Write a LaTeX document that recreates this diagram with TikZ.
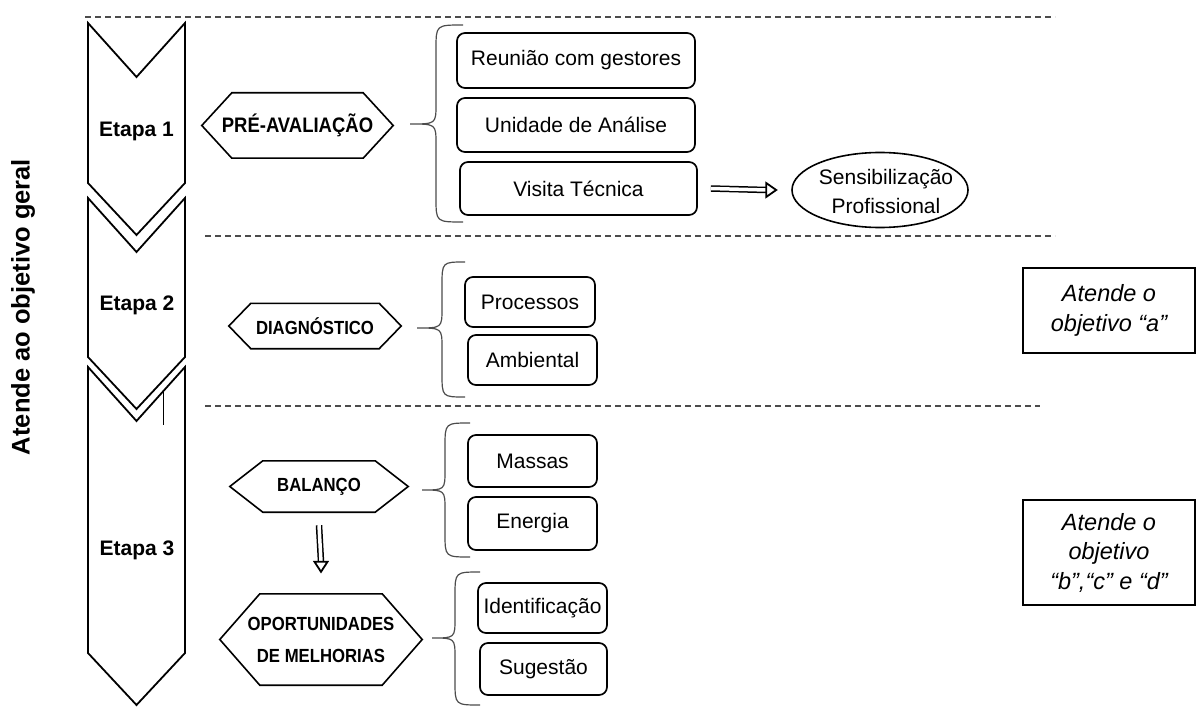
\documentclass[tikz,border=0pt]{standalone}
\usepackage{fontspec}
\setmainfont{Liberation Sans}
\newfontfamily\condsans[FakeStretch=0.88]{Liberation Sans}
\usetikzlibrary{arrows.meta,shapes.geometric}
\newcommand\drawhex[2]{\draw[hexline] (#1.west) -- ([xshift=#2pt]#1.north west) -- ([xshift=-#2pt]#1.north east) -- (#1.east) -- ([xshift=-#2pt]#1.south east) -- ([xshift=#2pt]#1.south west) -- cycle;}
\newcommand\cbrace[6]{\draw[bracel] (#1,#4) .. controls (#2,#4) .. (#2,#4+24) -- (#2,#5-20) .. controls (#2,#5) .. (#3,#5) .. controls (#2,#5) .. (#2,#5+20) -- (#2,#6-24) .. controls (#2,#6) .. (#1,#6);}
\begin{document}
\begin{tikzpicture}[x=1pt,y=-1pt,
  rbox/.style={draw, line width=1.7pt, rounded corners=8pt, inner sep=0pt, font=\fontsize{21}{25}\selectfont, align=center},
  hexlbl/.style={inner sep=0pt, font=\condsans\bfseries\fontsize{19}{32}\selectfont, align=center},
  hexline/.style={line width=1.6pt},
  chev/.style={line width=1.8pt, line join=miter},
  bracel/.style={line width=1.2pt, draw=black!70},
  sepline/.style={dash pattern=on 6pt off 4pt, line width=1.1pt, draw=black!70},
  etapa/.style={font=\bfseries\fontsize{21}{25}\selectfont},
  goal/.style={draw, line width=1.6pt, font=\itshape\fontsize{23.5}{29.5}\selectfont, align=center, inner sep=0pt},
  hshaft/.style={double, double distance=3.5pt, line width=1.5pt},
  hhead/.style={line width=1.8pt, fill=white, line join=miter}
]
\useasboundingbox (0,0) rectangle (1198,711);

% separators
\coordinate (s1a) at (85,17);  \coordinate (s1b) at (1055,17);
\coordinate (s2a) at (205,236); \coordinate (s2b) at (1055,236);
\coordinate (s3a) at (205,406); \coordinate (s3b) at (1040,406);
\draw[sepline] (s1a) -- (s1b);
\draw[sepline] (s2a) -- (s2b);
\draw[sepline] (s3a) -- (s3b);

% chevrons
\draw[chev] (88,23) -- (136.5,77) -- (185,23) -- (185,183) -- (136.5,235) -- (88,183) -- cycle;
\draw[chev] (88,198) -- (136.5,252) -- (185,198) -- (185,357) -- (136.5,409) -- (88,357) -- cycle;
\draw[chev] (88,367) -- (136.5,421) -- (185,367) -- (185,653) -- (136.5,705) -- (88,653) -- cycle;
\draw[line width=0.9pt] (163,390) -- (163,425);
\node[etapa] (e1) at (136.5,131) {Etapa 1};
\node[etapa] (e2) at (137,305) {Etapa 2};
\node[etapa] (e3) at (137,550) {Etapa 3};

\node[rotate=90, font=\bfseries\fontsize{25.5}{30}\selectfont] (geral) at (23,307) {Atende ao objetivo geral};

% hexagons
\node[hexlbl, minimum width=191pt, minimum height=65pt, font=\condsans\bfseries\fontsize{21}{25}\selectfont] (pre) at (297.5,125.5) {PRÉ-AVALIAÇÃO};
\drawhex{pre}{30}
\node[hexlbl, minimum width=172pt, minimum height=45pt] (diag) at (315,326) {DIAGNÓSTICO};
\drawhex{diag}{22}
\node[hexlbl, minimum width=178pt, minimum height=51pt] (bal) at (319,486.5) {BALANÇO};
\drawhex{bal}{33}
\node[hexlbl, minimum width=202pt, minimum height=91pt] (opo) at (321,639.5) {OPORTUNIDADES\\DE MELHORIAS};
\drawhex{opo}{40}

% braces
\cbrace{463}{436}{410}{25}{124}{222}
\cbrace{465}{442}{417}{262}{328}{397}
\cbrace{470}{445}{422}{423}{490}{557}
\cbrace{480}{455}{432}{572}{638}{705}

% boxes
\node[rbox, minimum width=238pt, minimum height=55pt] (reu) at (576,60.5) {Reunião com gestores};
\node[rbox, minimum width=238pt, minimum height=54pt] (uni) at (576,125) {Unidade de Análise};
\node[rbox, minimum width=237pt, minimum height=53pt] (vis) at (578.5,188.5) {Visita Técnica};
\node[rbox, minimum width=130pt, minimum height=50pt] (proc) at (530,302) {Processos};
\node[rbox, minimum width=129pt, minimum height=50pt] (amb) at (532.5,360) {Ambiental};
\node[rbox, minimum width=129pt, minimum height=52pt] (mas) at (532.5,461) {Massas};
\node[rbox, minimum width=129pt, minimum height=53pt] (ene) at (532.5,523.5) {Energia};
\node[rbox, minimum width=129pt, minimum height=50pt] (ide) at (542.5,608) {Identificação};
\node[rbox, minimum width=127pt, minimum height=52pt] (sug) at (543.5,669) {Sugestão};

% ellipse
\node[ellipse, draw, line width=1.6pt, minimum width=176pt, minimum height=75pt, inner sep=0pt] (sens) at (880,190) {};
\node[font=\fontsize{21}{29}\selectfont, align=center, inner sep=0pt] (senst) at (886,191) {Sensibilização\\Profissional};

% arrows
\coordinate (a1s) at ([xshift=13pt]vis.east);
\coordinate (a1e) at ([xshift=-15pt]sens.west);
\coordinate (a1m) at ([xshift=-10pt]a1e);
\draw[hshaft] (a1s) -- (a1m);
\draw[hhead] ([yshift=7pt]a1m) -- (a1e) -- ([yshift=-7pt]a1m) -- cycle;
\coordinate (a2s) at ([yshift=-13pt]bal.south);
\coordinate (a2e) at ([yshift=22pt]opo.north);
\coordinate (a2m) at ([yshift=10pt]a2e);
\draw[hshaft] (a2s) -- (a2m);
\draw[hhead] ([xshift=-6.5pt]a2m) -- (a2e) -- ([xshift=6.5pt]a2m) -- cycle;

% goal boxes
\node[goal, minimum width=172pt, minimum height=85pt] (ga) at (1109,310.5) {Atende o\\objetivo “a”};
\node[goal, minimum width=172pt, minimum height=105pt] (gb) at (1109,552.5) {Atende o\\objetivo\\“b”,“c” e “d”};
\end{tikzpicture}
\end{document}
